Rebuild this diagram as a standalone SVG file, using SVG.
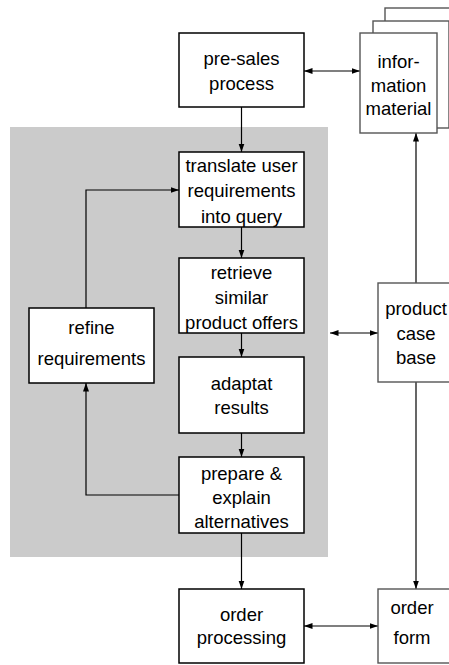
<svg xmlns="http://www.w3.org/2000/svg" width="449" height="665" viewBox="0 0 449 665">
<style>
text{font-family:"Liberation Sans",Arial,sans-serif;font-size:18.5px;fill:#000;text-anchor:middle}
.b{fill:#fff;stroke:#000;stroke-width:1.5}
.g{fill:#fff;stroke:#555;stroke-width:1.4}
.c{fill:none;stroke:#000;stroke-width:1.2}
</style>
<defs>
<marker id="a" markerUnits="userSpaceOnUse" markerWidth="9" markerHeight="7" refX="8.5" refY="3.5" orient="auto-start-reverse"><path d="M0,0.5 L8.5,3.5 L0,6.5 z" fill="#000"/></marker>
</defs>
<rect x="10" y="127" width="318" height="430" fill="#cbcbcb"/>
<g id="connectors">
<path class="c" d="M241.5,107 V152" marker-end="url(#a)"/>
<path class="c" d="M304,71 H360" marker-start="url(#a)" marker-end="url(#a)"/>
<path class="c" d="M416,283 V133" marker-end="url(#a)"/>
<path class="c" d="M86,308 V190 H179" marker-end="url(#a)"/>
<path class="c" d="M179,495 H86 V383" marker-end="url(#a)"/>
<path class="c" d="M330,333 H378" marker-start="url(#a)" marker-end="url(#a)"/>
<path class="c" d="M241.5,227 V258" marker-end="url(#a)"/>
<path class="c" d="M241.5,333 V357" marker-end="url(#a)"/>
<path class="c" d="M241.5,433 V457" marker-end="url(#a)"/>
<path class="c" d="M416,382 V589" marker-end="url(#a)"/>
<path class="c" d="M241.5,533 V589" marker-end="url(#a)"/>
<path class="c" d="M304,626 H378" marker-start="url(#a)" marker-end="url(#a)"/>
</g>
<g id="presales"><rect class="b" x="179" y="33" width="125" height="74"/><text x="241.5" y="64.5">pre-sales</text><text x="241.5" y="90">process</text></g>
<g id="info">
<rect class="g" x="385" y="8" width="80" height="100"/>
<rect class="g" x="373" y="21" width="76" height="107"/>
<rect class="g" x="360" y="33" width="77" height="100"/>
<text x="398.5" y="68">infor-</text><text x="398.5" y="92">mation</text><text x="398.5" y="115">material</text>
</g>
<g id="translate"><rect class="b" x="179" y="152" width="125" height="75"/><text x="241.5" y="171.5">translate user</text><text x="241.5" y="197">requirements</text><text x="241.5" y="222.5">into query</text></g>
<g id="retrieve"><rect class="b" x="179" y="258" width="125" height="75"/><text x="241.5" y="278.5">retrieve</text><text x="241.5" y="303.5">similar</text><text x="241.5" y="328.5">product offers</text></g>
<g id="refine"><rect class="b" x="29" y="308" width="125" height="75"/><text x="91.5" y="333.5">refine</text><text x="91.5" y="364.5">requirements</text></g>
<g id="productcase"><rect class="g" x="378" y="283" width="76" height="99"/><text x="416" y="314.5">product</text><text x="416" y="339.5">case</text><text x="416" y="363.5">base</text></g>
<g id="adaptat"><rect class="b" x="179" y="357" width="125" height="76"/><text x="241.5" y="389.5">adaptat</text><text x="241.5" y="413.5">results</text></g>
<g id="prepare"><rect class="b" x="179" y="457" width="125" height="76"/><text x="241.5" y="479.5">prepare &amp;</text><text x="241.5" y="503.5">explain</text><text x="241.5" y="527.5">alternatives</text></g>
<g id="orderprocessing"><rect class="b" x="179" y="589" width="125" height="74"/><text x="241.5" y="621">order</text><text x="241.5" y="644">processing</text></g>
<g id="orderform"><rect class="g" x="378" y="589" width="72" height="74"/><text x="412" y="614">order</text><text x="412" y="644">form</text></g>
</svg>
